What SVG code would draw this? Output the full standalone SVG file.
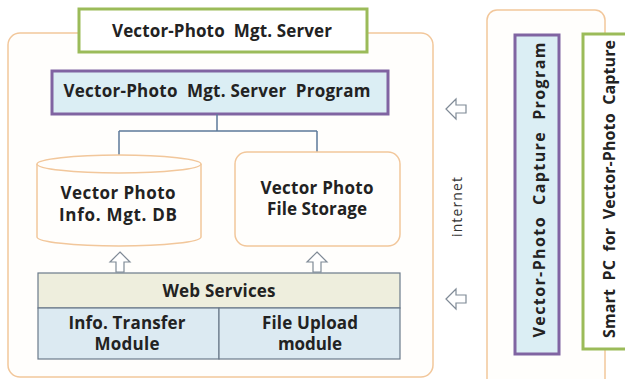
<svg xmlns="http://www.w3.org/2000/svg" width="625" height="379" viewBox="0 0 625 379">
<style>
.t{font-family:"Open Sans","Noto Sans",sans-serif;font-weight:bold;font-size:17px;fill:#222;text-anchor:middle;white-space:pre}
.v{font-size:16px}
.orange{fill:#fffefc;stroke:#f2c79b;stroke-width:1.5}
.green{fill:#fff;stroke:#9bbb59;stroke-width:3}
.purple{fill:#dbeef4;stroke:#8064a2;stroke-width:3}
.cell{stroke:#6b7a8a;stroke-width:1.2}
.arr{fill:#fff;stroke:#7f8a96;stroke-width:1.2}
.conn{fill:none;stroke:#5d7a99;stroke-width:1.5}
</style>
<rect width="625" height="379" fill="#fff"/>
<g id="server-frame"><rect class="orange" x="8" y="33" width="425" height="344" rx="12"/></g>
<g id="server-title"><rect class="green" x="79" y="9" width="288" height="43"/><text class="t" x="222" y="37" textLength="220">Vector-Photo  Mgt. Server</text></g>
<g id="server-program"><rect class="purple" x="52" y="71" width="336" height="43"/><text class="t" x="217" y="97" textLength="307">Vector-Photo  Mgt. Server  Program</text></g>
<g id="connectors">
<path class="conn" d="M217 114 V131 M119 131 H317 M119 131 V155 M317 131 V152"/>
</g>
<g id="db">
<path class="orange" d="M37 164 V237 A82 9 0 0 0 201 237 V164"/>
<ellipse class="orange" cx="119" cy="164" rx="82" ry="9"/>
<text class="t" x="118" y="199" textLength="115">Vector Photo</text><text class="t" x="118" y="221" textLength="118">Info. Mgt. DB</text>
</g>
<g id="storage"><rect class="orange" x="235" y="152" width="165" height="94" rx="12"/>
<text class="t" x="317" y="194" textLength="113">Vector Photo</text><text class="t" x="317" y="215" textLength="100">File Storage</text></g>
<g id="up-arrows">
<path class="arr" d="M120 252 L130 262 H124 V272 H116 V262 H110 Z"/>
<path class="arr" d="M317 252 L327 262 H321 V272 H313 V262 H307 Z"/>
</g>
<g id="web-services">
<rect class="cell" fill="#eeeedd" x="38" y="273" width="362" height="35"/>
<text class="t" x="219" y="297" textLength="113">Web Services</text>
</g>
<g id="info-transfer"><rect class="cell" fill="#dceaf2" x="38" y="308" width="181" height="51"/>
<text class="t" x="127" y="329" textLength="117">Info. Transfer</text><text class="t" x="127" y="350" textLength="65">Module</text></g>
<g id="file-upload"><rect class="cell" fill="#dceaf2" x="219" y="308" width="181" height="51"/>
<text class="t" x="310" y="329" textLength="96">File Upload</text><text class="t" x="310" y="350" textLength="64">module</text></g>
<g id="internet">
<path class="arr" d="M446 109 L456 99 V105 H466 V113 H456 V119 Z"/>
<path class="arr" d="M446 299 L456 289 V295 H466 V303 H456 V309 Z"/>
<text x="462" y="207" transform="rotate(-90 462 207)" textLength="60" style="font-family:'Open Sans','Noto Sans',sans-serif;font-size:14px;fill:#333;text-anchor:middle">internet</text>
</g>
<g id="client-frame"><rect class="orange" x="487" y="10" width="118" height="390" rx="10"/></g>
<g id="capture-program"><rect class="purple" x="515" y="35" width="44" height="319"/>
<text class="t v" transform="translate(545 190) rotate(-90)" textLength="295">Vector-Photo  Capture  Program</text></g>
<g id="smart-pc"><rect class="green" x="583" y="34" width="44" height="315"/>
<text class="t v" transform="translate(615 189) rotate(-90)" textLength="298">Smart  PC  for  Vector-Photo  Capture</text></g>
</svg>
